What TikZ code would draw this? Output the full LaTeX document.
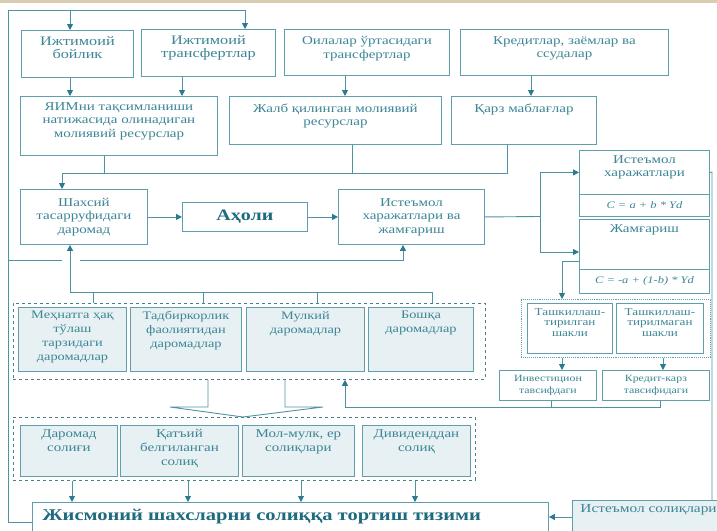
\documentclass[tikz,border=0pt]{standalone}
\usepackage{fontspec}
\setmainfont[FakeStretch=1.25]{Liberation Serif}
\usetikzlibrary{arrows.meta}
\definecolor{lcol}{HTML}{4F93A3}
\definecolor{bcol}{HTML}{5E9EAD}
\definecolor{acol}{HTML}{2B7A91}
\definecolor{tcol}{HTML}{3C8696}
\definecolor{dcol}{HTML}{1E6B7E}
\definecolor{fcol}{HTML}{E7F0F3}
\definecolor{dshcol}{HTML}{4D7F8B}
\definecolor{beige}{HTML}{D9CCB0}
\newcommand\tbt[4]{\parbox[c][#2pt][t]{#1pt}{\centering\vspace*{#3pt}#4\par}}
\newcommand\tbc[3]{\parbox[c][#2pt][c]{#1pt}{\centering #3\par}}
\begin{document}
\begin{tikzpicture}[x=1pt,y=-1pt,
  box/.style={draw=bcol,line width=0.9pt,inner sep=0pt,anchor=north west,text=tcol,font=\fontsize{12}{13.5}\selectfont},
  fillbox/.style={box,fill=fcol},
  ln/.style={draw=lcol,line width=0.9pt},
  arr/.style={ln,-{Triangle[length=6pt,width=6pt,color=acol]}},
  dbox/.style={draw=dshcol,dashed,line width=0.8pt,inner sep=0pt,anchor=north west},
  dotbox/.style={draw=bcol,densely dotted,line width=0.9pt,inner sep=0pt,anchor=north west}]
\useasboundingbox (0,0) rectangle (717,530);
\clip (0,0) rectangle (717,530);
\fill[white] (0,0) rectangle (717,530);
\fill[beige] (0,0) rectangle (717,2.5);
% top row
\node[box,font=\fontsize{13}{13.5}\selectfont] (ib) at (21,30) {\tbt{112}{47}{6}{Ижтимоий\\бойлик}};
\node[box,font=\fontsize{13}{13.5}\selectfont] (it) at (141,29) {\tbt{134}{47}{6}{Ижтимоий\\трансфертлар}};
\node[box] (ot) at (284,29) {\tbt{165}{46}{7}{Оилалар ўртасидаги\\трансфертлар}};
\node[box] (kz) at (460,29) {\tbt{208}{46}{7}{Кредитлар, заёмлар ва\\ссудалар}};
% second row
\node[box] (yim) at (20,96) {\tbt{197}{59}{6}{ЯИМни тақсимланиши\\натижасида олинадиган\\молиявий ресурслар}};
\node[box] (jalb) at (229,96) {\tbt{212}{48}{7}{Жалб қилинган молиявий\\ресурслар}};
\node[box] (qarz) at (451,96) {\tbt{145}{48}{7}{Қарз маблағлар}};
% third row
\node[box] (shx) at (20,189) {\tbc{127}{55}{Шахсий\\тасарруфидаги\\даромад}};
\node[box,text=dcol,font=\bfseries\fontsize{16}{17}\selectfont] (aholi) at (182,202) {\tbc{125}{29}{Аҳоли}};
\node[box] (ist) at (338,189) {\tbc{146}{55}{Истеъмол\\харажатлари ва\\жамғариш}};
% right column
\node[box] (ih) at (579,150) {\tbt{130}{44}{5}{Истеъмол\\харажатлари}};
\node[box,font=\itshape\fontsize{10}{12}\selectfont] (ihf) at (579,194) {\tbc{130}{22}{C = a + b * Yd}};
\node[box] (jm) at (579,219) {\tbt{130}{50}{5}{Жамғариш}};
\node[box,font=\itshape\fontsize{10}{12}\selectfont] (jmf) at (579,269) {\tbc{130}{24}{C = -a + (1-b) * Yd}};
\node[dotbox,minimum width=189pt,minimum height=58pt] (tsh) at (521,299) {};
\node[box,font=\fontsize{10.5}{10.5}\selectfont] (t1) at (527,303) {\tbt{85}{50}{5}{Ташкиллаш-\\тирилган\\шакли}};
\node[box,font=\fontsize{10.5}{10.5}\selectfont] (t2) at (616,303) {\tbt{87}{50}{5}{Ташкиллаш-\\тирилмаган\\шакли}};
\node[box,font=\fontsize{9.5}{12}\selectfont] (inv) at (499,370) {\tbc{97}{30}{Инвестицион\\тавсифдаги}};
\node[box,font=\fontsize{9.5}{12}\selectfont] (kr) at (602,370) {\tbc{107}{30}{Кредит-карз\\тавсифидаги}};
% income boxes
\node[dbox,minimum width=472pt,minimum height=76pt] (dinc) at (13,303) {};
\node[fillbox,font=\fontsize{11.5}{14}\selectfont] (d1) at (18,307) {\tbt{108}{64}{4}{Меҳнатга ҳақ\\тўлаш\\тарзидаги\\даромадлар}};
\node[fillbox,font=\fontsize{11.5}{14}\selectfont] (d2) at (130,307) {\tbt{111}{64}{4}{Тадбиркорлик\\фаолиятидан\\даромадлар}};
\node[fillbox,font=\fontsize{11.5}{14}\selectfont] (d3) at (246,307) {\tbt{118}{64}{4}{Мулкий\\даромадлар}};
\node[fillbox,font=\fontsize{11.5}{14}\selectfont] (d4) at (368,307) {\tbt{105}{64}{4}{Бошқа\\даромадлар}};
% tax boxes
\node[dbox,minimum width=462pt,minimum height=63pt] (dtax) at (13,417) {};
\node[fillbox,font=\fontsize{12}{14}\selectfont] (s1) at (20,425) {\tbt{97}{51}{4}{Даромад\\солиғи}};
\node[fillbox,font=\fontsize{12}{14}\selectfont] (s2) at (120,425) {\tbt{118}{51}{4}{Қатъий\\белгиланган\\солиқ}};
\node[fillbox,font=\fontsize{12}{14}\selectfont] (s3) at (242,425) {\tbt{112}{51}{4}{Мол-мулк, ер\\солиқлари}};
\node[fillbox,font=\fontsize{12}{14}\selectfont] (s4) at (362,425) {\tbt{108}{51}{4}{Дивиденддан\\солиқ}};
% bottom
\node[box,text=dcol,font=\bfseries\fontsize{16.4}{18}\selectfont] (jis) at (32,502) {\parbox[c][40pt][t]{516pt}{\vspace*{7pt}\hspace*{10pt}Жисмоний шахсларни солиққа тортиш тизими}};
\node[fillbox,font=\fontsize{12.3}{15}\selectfont] (isol) at (572,500) {\parbox[c][40pt][t]{170pt}{\vspace*{4pt}\hspace*{8pt}\mbox{Истеъмол солиқлари}}};
% connectors: top loop
\coordinate (tl) at (8,10);
\coordinate (tr) at (245,10);
\draw[ln] (jis.west) -- (jis.west -| tl) -- (tl) -- (tr);
\draw[arr] (tr) -- (it.north -| tr);
\draw[arr] (tl -| 70,0) -- (ib.north -| 70,0);
\draw[arr] (ib.south -| 70,0) -- (yim.north -| 70,0);
\draw[arr] (it.south -| 182,0) -- (yim.north -| 182,0);
\draw[arr] (ot.south -| 345,0) -- (jalb.north -| 345,0);
\draw[arr] (kz.south -| 531,0) -- (qarz.north -| 531,0);
\coordinate (j1) at (62,173);
\draw[ln] (yim.south -| 104,0) -- (104,173);
\draw[ln] (jalb.south -| 352,0) -- (352,173);
\draw[ln] (qarz.south -| 507,0) |- (j1);
\draw[arr] (j1) -- (shx.north -| j1);
\draw[arr] (shx.east) -- (aholi.west);
\draw[arr] (aholi.east) -- (ist.west);
\coordinate (j2) at (540,216.5);
\draw[ln] (ist.east) -- (j2);
\draw[arr] (j2) |- (ih.west);
\draw[arr] (j2) |- (jm.west |- 0,252);
\draw[arr] (jm.west |- 0,261) -| (tsh.north -| 562,0);
\draw[arr] (tsh.south -| 562,0) -- (inv.north -| 562,0);
\draw[arr] (tsh.south -| 663,0) -- (kr.north -| 663,0);
\coordinate (j3) at (345,407);
\draw[ln] (inv.south -| 551,0) -- (551,407);
\draw[ln] (kr.south -| 660,0) |- (j3);
\draw[arr] (j3) -- (dinc.south -| j3);
\draw[ln] (ih.east) -- (712,172) -- (isol.north -| 712,0);
\draw[arr] (isol.west |- 0,517) -- (jis.east |- 0,517);
% left branch
\coordinate (j4) at (8,260);
\coordinate (j4b) at (80,260);
\draw[ln] (j4) -- (62,260);
\draw[arr] (j4b) -| (ist.south -| 403,0);
\coordinate (j5) at (70,292);
\draw[arr] (j5) -- (shx.south -| j5);
\draw[ln] (j5) -- (432,292);
\foreach \x in {93,203,317,432} \draw[ln] (\x,292) -- (dinc.north -| \x,0);
% funnel
\draw[ln] (dinc.south -| 208,0) -- (208,407) -- (170,407) -- (243,417) -- (323,407) -- (285,407) -- (dinc.south -| 285,0);
\foreach \x in {72,188,301,415} \draw[arr] (dtax.south -| \x,0) -- (jis.north -| \x,0);
\end{tikzpicture}
\end{document}
